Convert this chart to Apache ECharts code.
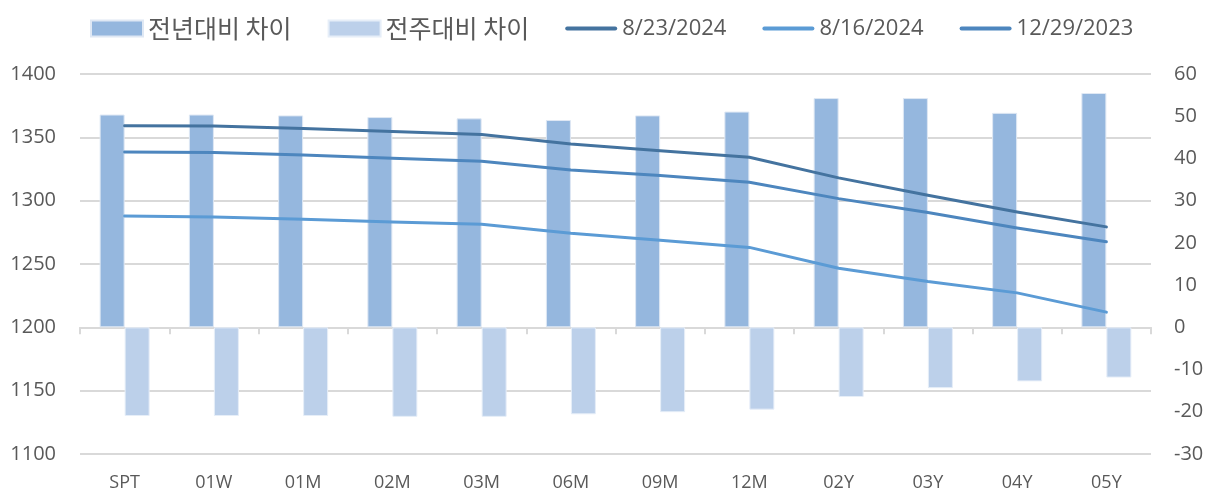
<!DOCTYPE html>
<html>
<head>
<meta charset="utf-8">
<script src="https://cdn.jsdelivr.net/npm/echarts@6/dist/echarts.min.js"></script>
<style>
  html, body { margin: 0; padding: 0; background: #fff; }
  #chart { width: 1207px; height: 492px; }
</style>
</head>
<body>
<div id="chart"></div>
<script>
// Tenors on the curve
const categories = ['SPT', '01W', '01M', '02M', '03M', '06M', '09M', '12M', '02Y', '03Y', '04Y', '05Y'];

// Differences (right axis)
const yoyDiff = [50.4, 50.4, 50.2, 49.8, 49.5, 49.1, 50.2, 51.1, 54.3, 54.3, 50.8, 55.5];
const wowDiff = [-21.0, -21.0, -21.0, -21.2, -21.2, -20.6, -20.1, -19.5, -16.5, -14.4, -12.8, -11.9];

// Curve levels (left axis)
const curve20240823 = [1359.2, 1359.0, 1357.0, 1354.7, 1352.3, 1344.8, 1339.5, 1334.3, 1318.0, 1304.2, 1291.0, 1279.3];
const curve20240816 = [1287.9, 1287.1, 1285.3, 1283.2, 1281.4, 1274.3, 1268.8, 1263.1, 1246.6, 1236.1, 1227.2, 1212.0];
const curve20231229 = [1338.5, 1338.0, 1336.1, 1333.5, 1331.1, 1324.3, 1319.9, 1314.6, 1301.6, 1290.6, 1278.5, 1267.5];

const FONT = "'Open Sans', 'Noto Sans CJK KR', sans-serif";
const KFONT = "'Noto Sans CJK KR', sans-serif";
const TEXT = '#595959';
const GRID = '#d9d9d9';
// flat bar used as legend key for the line series
const LINE_ICON = 'path://M2,0 L50,0 A2,2 0 0 1 50,4 L2,4 A2,2 0 0 1 2,0 Z';

const chart = echarts.init(document.getElementById('chart'), null, { renderer: 'canvas' });

function lineSeries(name, data, color) {
  return {
    name, type: 'line', yAxisIndex: 0, data,
    symbol: 'none', smooth: false, z: 5,
    lineStyle: { color, width: 3, cap: 'round', join: 'round' },
    itemStyle: { color }
  };
}

chart.setOption({
  animation: false,
  textStyle: { fontFamily: FONT },
  legend: {
    top: 11, left: 85,
    itemWidth: 52, itemHeight: 16, itemGap: 36,
    symbolKeepAspect: true,
    textStyle: {
      fontFamily: FONT, fontSize: 22, color: TEXT,
      rich: { k: { fontFamily: KFONT, fontSize: 25, color: TEXT } }
    },
    formatter: name => /^[0-9]/.test(name) ? name : '{k|' + name + '}',
    data: [
      { name: '전년대비 차이', icon: 'rect' },
      { name: '전주대비 차이', icon: 'rect' },
      { name: '8/23/2024', icon: LINE_ICON },
      { name: '8/16/2024', icon: LINE_ICON },
      { name: '12/29/2023', icon: LINE_ICON }
    ]
  },
  grid: { left: 80, right: 56, top: 74, bottom: 36, containLabel: false },
  xAxis: {
    type: 'category', data: categories, boundaryGap: true,
    axisLine: { lineStyle: { color: GRID, width: 2 } },
    axisTick: { show: true, length: 7, lineStyle: { color: GRID, width: 2 } },
    axisLabel: { color: TEXT, fontSize: 18, fontFamily: FONT, margin: 20 }
  },
  yAxis: [
    {
      type: 'value', min: 1100, max: 1400, interval: 50, position: 'left',
      axisLine: { show: false }, axisTick: { show: false },
      axisLabel: { color: TEXT, fontSize: 20, fontFamily: FONT, margin: 24, formatter: v => String(v) },
      splitLine: { lineStyle: { color: GRID, width: 2 } }
    },
    {
      type: 'value', min: -30, max: 60, interval: 10, position: 'right',
      axisLine: { show: false }, axisTick: { show: false },
      axisLabel: { color: TEXT, fontSize: 20, fontFamily: FONT, margin: 23, formatter: v => String(v) },
      splitLine: { show: false }
    }
  ],
  series: [
    {
      name: '전년대비 차이', type: 'bar', yAxisIndex: 1, data: yoyDiff,
      barWidth: 25, barGap: '0%', z: 2,
      itemStyle: { color: '#95b7de', borderColor: '#dfe8f4', borderWidth: 1 }
    },
    {
      name: '전주대비 차이', type: 'bar', yAxisIndex: 1, data: wowDiff,
      barWidth: 25, barGap: '0%', z: 2,
      itemStyle: { color: '#bcd0ea', borderColor: '#e6eef8', borderWidth: 1 }
    },
    lineSeries('8/23/2024', curve20240823, '#44739f'),
    lineSeries('8/16/2024', curve20240816, '#5b9bd5'),
    lineSeries('12/29/2023', curve20231229, '#4d86be')
  ]
});
</script>
</body>
</html>
